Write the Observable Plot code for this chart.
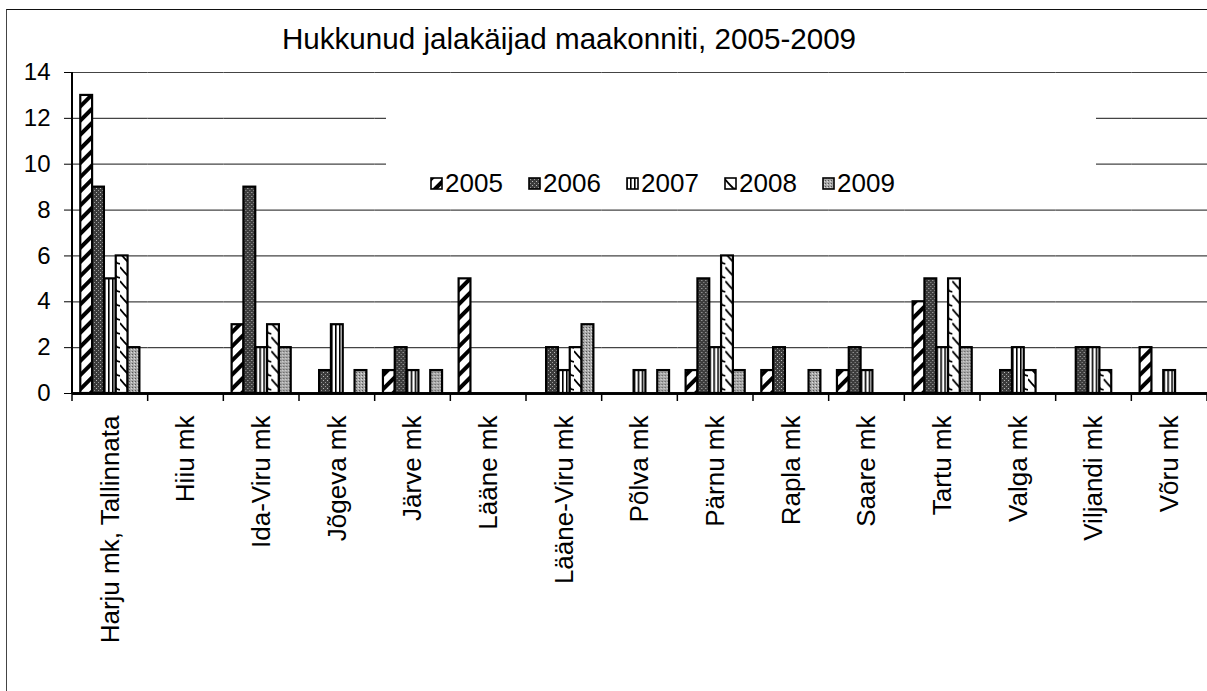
<!DOCTYPE html>
<html>
<head>
<meta charset="utf-8">
<script src="https://cdn.jsdelivr.net/npm/d3@7"></script>
<script src="https://cdn.jsdelivr.net/npm/@observablehq/plot@0.6"></script>
<style>
  html, body { margin: 0; padding: 0; background: #fff; }
  body { font-family: "Liberation Sans", Arial, sans-serif; color: #000; }
  #wrap { position: relative; width: 1207px; height: 691px; overflow: hidden; }
  #border { position: absolute; left: 6px; top: 9px; width: 1300px; height: 800px;
            border-left: 1.5px solid #444; border-top: 1.5px solid #111; pointer-events: none; }
  #title { position: absolute; left: 0; width: 1138px; top: 24px; text-align: center;
           font-size: 29.6px; line-height: 29px; white-space: nowrap; }
  #legend { position: absolute; left: 386px; top: 100px; width: 710px; height: 104px; background: #fff; }
  .item { position: absolute; top: 70px; height: 26px; display: flex; align-items: center;
          font-size: 26px; line-height: 26px; }
  .item svg { margin-right: 2px; }
  #chart { position: absolute; left: 0; top: 0; }
</style>
</head>
<body>
<svg width="0" height="0" style="position:absolute">
  <defs>
    <pattern id="p2005" patternUnits="userSpaceOnUse" width="10" height="10" patternTransform="rotate(45)">
      <rect width="10" height="10" fill="#fff"/>
      <rect x="0" y="0" width="4" height="10" fill="#000"/>
    </pattern>
    <pattern id="p2006" patternUnits="userSpaceOnUse" width="4" height="4">
      <rect width="4" height="4" fill="#3c3c3c"/>
      <rect x="0" y="0" width="1" height="1" fill="#bbb"/>
      <rect x="2" y="2" width="1" height="1" fill="#999"/>
    </pattern>
    <pattern id="p2007" patternUnits="userSpaceOnUse" width="4" height="4">
      <rect width="4" height="4" fill="#fff"/>
      <rect x="0" y="0" width="1.6" height="4" fill="#000"/>
    </pattern>
    <pattern id="p2008" patternUnits="userSpaceOnUse" width="12" height="14">
      <rect width="12" height="14" fill="#fff"/>
      <path d="M0,1 Q4,6 9,11 L12,12" fill="none" stroke="#000" stroke-width="1.8"/>
    </pattern>
    <pattern id="p2009" patternUnits="userSpaceOnUse" width="3" height="3">
      <rect width="3" height="3" fill="#a8a8a8"/>
      <rect x="0" y="0" width="1" height="1" fill="#555"/>
      <rect x="2" y="1" width="1" height="1" fill="#ddd"/>
    </pattern>
  </defs>
</svg>
<div id="wrap">
  <div id="chart"></div>
  <div id="border"></div>
  <div id="title">Hukkunud jalakäijad maakonniti, 2005-2009</div>
  <div id="legend"></div>
</div>
<script>
// ---- data ----
const categories = ["Harju mk, Tallinnata", "Hiiu mk", "Ida-Viru mk", "Jõgeva mk", "Järve mk",
  "Lääne mk", "Lääne-Viru mk", "Põlva mk", "Pärnu mk", "Rapla mk", "Saare mk", "Tartu mk",
  "Valga mk", "Viljandi mk", "Võru mk"];
const years = ["2005", "2006", "2007", "2008", "2009"];
const v2005 = [13, 0, 3, 0, 1, 5, 0, 0, 1, 1, 1, 4, 0, 0, 2];
const v2006 = [9, 0, 9, 1, 2, 0, 2, 0, 5, 2, 2, 5, 1, 2, 0];
const v2007 = [5, 0, 2, 3, 1, 0, 1, 1, 2, 0, 1, 2, 2, 2, 1];
const v2008 = [6, 0, 3, 0, 0, 0, 2, 0, 6, 0, 0, 5, 1, 1, 0];
const v2009 = [2, 0, 2, 1, 1, 0, 3, 1, 1, 1, 0, 2, 0, 0, 0];
const yTicks = [0, 2, 4, 6, 8, 10, 12, 14];

const series = {"2005": v2005, "2006": v2006, "2007": v2007, "2008": v2008, "2009": v2009};
const rows = [];
categories.forEach((c, i) => years.forEach(y => rows.push({cat: c, year: y, value: series[y][i]})));

const font = "'Liberation Sans', Arial, sans-serif";

const chart = Plot.plot({
  width: 1207,
  height: 691,
  marginLeft: 72,
  marginRight: 0,
  marginTop: 72,
  marginBottom: 298,
  style: {fontFamily: font, color: "#000", background: "transparent", overflow: "visible"},
  fx: {domain: categories, padding: 0, round: false, label: null},
  x: {domain: years, paddingInner: 0, paddingOuter: 0.7, round: false, axis: null},
  y: {domain: [0, 14], label: null},
  marks: [
    Plot.gridY(yTicks, {stroke: "#444", strokeOpacity: 1, strokeWidth: 1.2}),
    ...years.map(y => Plot.barY(rows.filter(r => r.year === y && r.value > 0), {
      fx: "cat", x: "year", y: "value",
      fill: `url(#p${y})`, stroke: "#000", strokeWidth: 2.2, inset: 0
    })),
    Plot.ruleY(rows, {fx: "cat", y: 0, stroke: "#000", strokeWidth: 2}),
    Plot.axisY(yTicks, {facetAnchor: "left", tickSize: 8, tickPadding: 14, fontSize: 24, stroke: "#000", label: null}),
    Plot.axisFx({anchor: "bottom", tickSize: 0, tickPadding: 22, rotate: -90, textAnchor: "end",
                 lineAnchor: "middle", fontSize: 26, label: null})
  ]
});
document.getElementById("chart").appendChild(chart);

// y-axis line and category-boundary ticks (Excel style), placed with the plot's own scales
const svg = d3.select(chart);
const fx = chart.scale("fx");
const ys = chart.scale("y");
const y0 = ys.apply(0), y14 = ys.apply(14);
const x0 = fx.apply(categories[0]);
const g = svg.append("g").attr("stroke", "#000");
g.append("line").attr("x1", x0).attr("x2", x0).attr("y1", y14).attr("y2", y0).attr("stroke-width", 2);
const bounds = categories.map(c => fx.apply(c));
bounds.push(fx.apply(categories[categories.length - 1]) + fx.bandwidth);
bounds.forEach(b => g.append("line").attr("x1", b).attr("x2", b).attr("y1", y0).attr("y2", y0 + 8).attr("stroke-width", 1.5));

// legend
const legend = d3.select("#legend");
years.forEach((y, i) => {
  const item = legend.append("div").attr("class", "item").style("left", (44 + i * 98) + "px");
  const s = item.append("svg").attr("width", 13).attr("height", 13);
  s.append("rect").attr("x", 1).attr("y", 1).attr("width", 11).attr("height", 11)
    .attr("fill", `url(#p${y})`).attr("stroke", "#000").attr("stroke-width", 1.6);
  item.append("span").text(y);
});
</script>
</body>
</html>
